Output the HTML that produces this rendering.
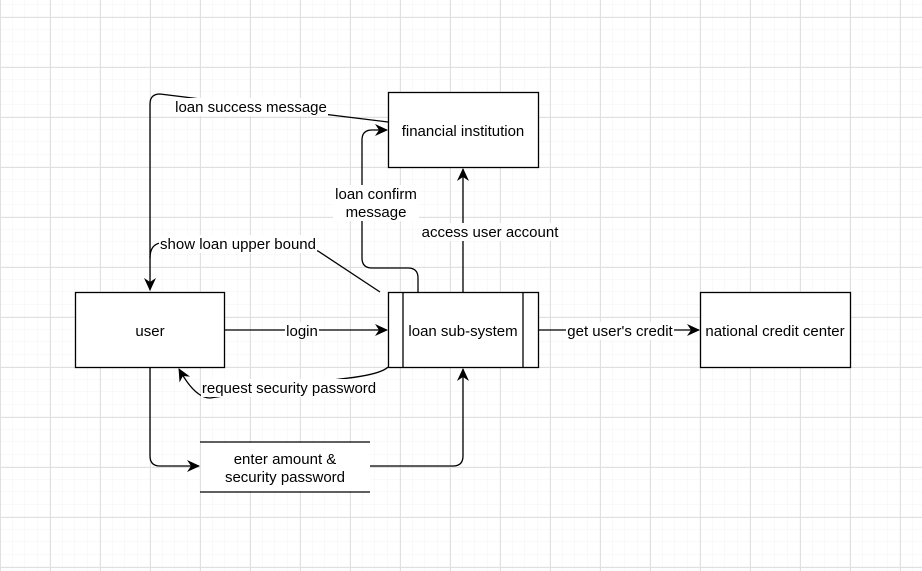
<!DOCTYPE html>
<html><head><meta charset="utf-8"><style>
html,body{margin:0;padding:0;background:#fff;}
svg{display:block;font-family:"Liberation Sans",Arial,sans-serif;font-size:15px;}
</style></head><body>
<svg width="922" height="571" viewBox="0 0 922 571" xmlns="http://www.w3.org/2000/svg">
<defs>
<pattern id="minor" width="12.5" height="12.5" patternUnits="userSpaceOnUse" x="0" y="4.5">
<path d="M12.5 0 V12.5 M0 12.5 H12.5" stroke="#f3f3f3" stroke-width="1" fill="none"/>
</pattern>
<pattern id="major" width="50" height="50" patternUnits="userSpaceOnUse" x="0" y="17">
<path d="M0.5 0 V50 M0 0.5 H50" stroke="#e0e0e0" stroke-width="1" fill="none"/>
</pattern>
<marker id="a" markerWidth="14" markerHeight="14" refX="12" refY="6" orient="auto" markerUnits="userSpaceOnUse">
<path d="M0,0 L13,6 L0,12 L4,6 Z" fill="#000"/>
</marker>
</defs>
<rect width="922" height="571" fill="url(#minor)"/>
<rect width="922" height="571" fill="url(#major)"/>
<g fill="none" stroke="#000" stroke-width="1.3">
<path d="M388,122 L160,94 Q150,94 150,104 L150,290" marker-end="url(#a)"/>
<path d="M380,292 L318,251 L160,243 Q150,245 150,258"/>
<path d="M418,292 L418,278 Q418,268 408,268 L372,268 Q362,268 362,258 L362,140 Q362,130 372,130 L387,130" marker-end="url(#a)"/>
<path d="M463,292 L463,169" marker-end="url(#a)"/>
<path d="M224,330 L387,330" marker-end="url(#a)"/>
<path d="M538,330 L699,330" marker-end="url(#a)"/>
<path d="M388,367 Q380,375 340,379 L210,398 Q195,398 179,369" marker-end="url(#a)"/>
<path d="M150,367 L150,456 Q150,466 160,466 L199,466" marker-end="url(#a)"/>
<path d="M370,466 L453,466 Q463,466 463,456 L463,369" marker-end="url(#a)"/>
</g>
<g fill="#fff" stroke="#000" stroke-width="1.3">
<rect x="388.5" y="92.5" width="150" height="75"/>
<rect x="75.5" y="292.5" width="149" height="75"/>
<rect x="388.5" y="292.5" width="150" height="75"/>
<rect x="700.5" y="292.5" width="150" height="75"/>
</g>
<g stroke="#000" stroke-width="1.3">
<line x1="403" y1="292" x2="403" y2="367"/>
<line x1="523" y1="292" x2="523" y2="367"/>
<line x1="200" y1="442" x2="370" y2="442"/>
<line x1="200" y1="492" x2="370" y2="492"/>
</g>
<rect x="201" y="443" width="169" height="48" fill="#fff"/>
<g fill="#fff">
<rect x="174" y="98" width="154" height="18"/>
<rect x="159" y="235" width="158" height="18"/>
<rect x="333" y="185" width="86" height="36"/>
<rect x="419" y="223" width="142" height="18"/>
<rect x="285" y="322" width="34" height="18"/>
<rect x="566" y="322" width="108" height="18"/>
<rect x="201" y="379" width="177" height="18"/>
</g>
<g fill="#000" text-anchor="middle">
<text x="463" y="136">financial institution</text>
<text x="150" y="336">user</text>
<text x="463" y="336">loan sub-system</text>
<text x="775" y="336">national credit center</text>
<text x="285" y="464">enter amount &amp;</text>
<text x="285" y="482">security password</text>
<text x="251" y="112">loan success message</text>
<text x="238" y="249">show loan upper bound</text>
<text x="376" y="199">loan confirm</text>
<text x="376" y="217">message</text>
<text x="490" y="237">access user account</text>
<text x="302" y="336">login</text>
<text x="620" y="336">get user's credit</text>
<text x="289" y="393">request security password</text>
</g>
</svg>
</body></html>
